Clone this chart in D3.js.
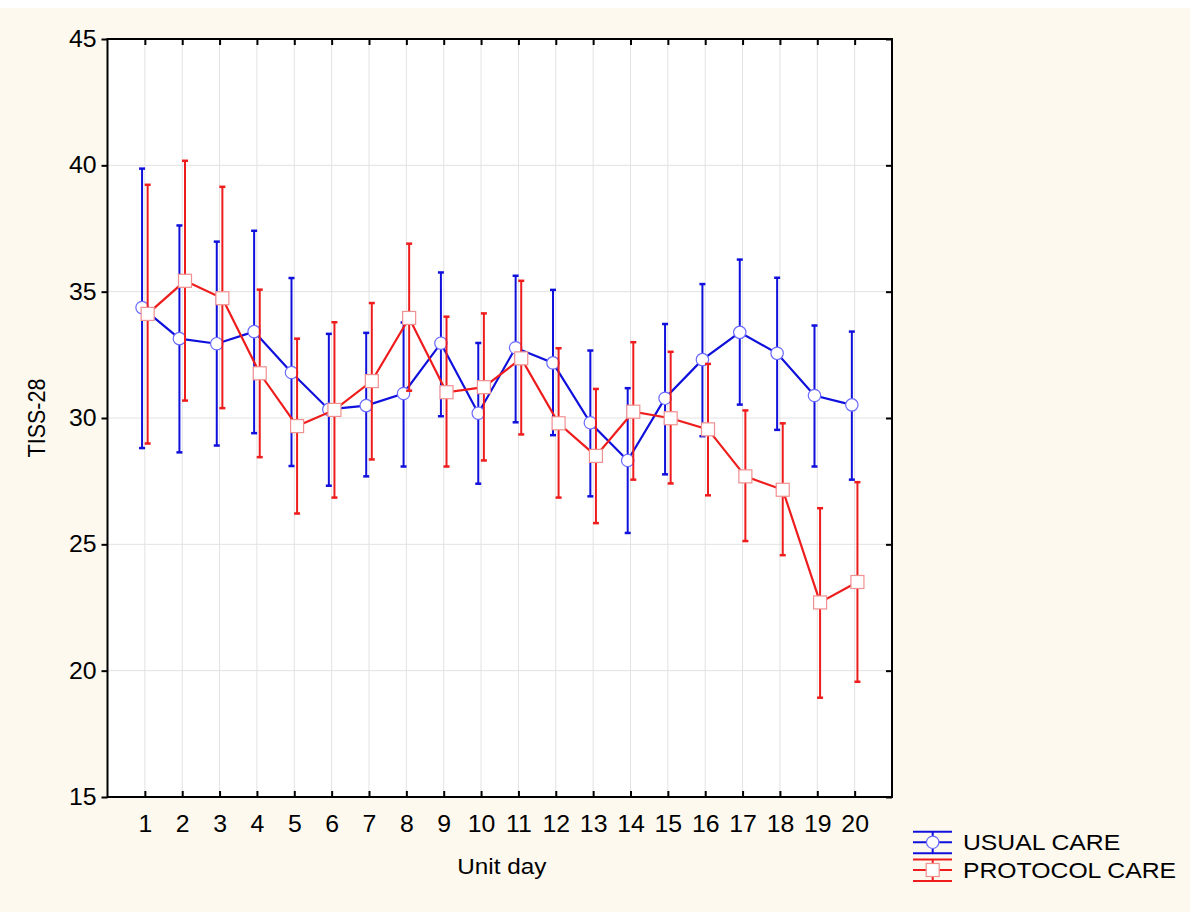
<!DOCTYPE html>
<html>
<head>
<meta charset="utf-8">
<script src="https://cdn.jsdelivr.net/npm/d3@7"></script>
<style>
  html, body { margin: 0; padding: 0; background: #ffffff; }
  svg { display: block; }
  text { font-family: "Liberation Sans", Arial, sans-serif; fill: #000; }
</style>
</head>
<body>
<svg id="chart" width="1200" height="920"></svg>
<script>
// ---- data ----
const days = [1,2,3,4,5,6,7,8,9,10,11,12,13,14,15,16,17,18,19,20];
const yTicks = [15,20,25,30,35,40,45];

const usualMean = [34.37,33.14,32.94,33.42,31.80,30.34,30.49,30.97,32.96,30.19,32.78,32.18,29.81,28.32,30.78,32.31,33.39,32.56,30.89,30.52];
const usualLow  = [28.81,28.64,28.91,29.40,28.10,27.32,27.69,28.08,30.07,27.40,29.83,29.32,26.90,25.45,27.77,29.28,30.53,29.53,28.08,27.56];
const usualHigh = [39.87,37.62,36.98,37.41,35.54,33.33,33.37,33.78,35.76,32.97,35.63,35.07,32.67,31.18,33.72,35.30,36.27,35.55,33.66,33.42];

const protocolMean = [34.12,35.43,34.74,31.77,29.68,30.32,31.46,33.96,31.02,31.22,32.36,29.79,28.50,30.25,29.99,29.55,27.69,27.16,22.70,23.51];
const protocolLow  = [28.99,30.69,30.39,28.45,26.22,26.85,28.36,31.08,28.08,28.32,29.35,26.85,25.84,27.56,27.41,26.94,25.13,24.57,18.93,19.56];
const protocolHigh = [39.23,40.18,39.15,35.08,33.14,33.79,34.55,36.90,34.01,34.14,35.43,32.76,31.15,33.00,32.62,32.14,30.30,29.79,26.43,27.46];

const seriesNames = ["USUAL CARE", "PROTOCOL CARE"];
const xLabel = "Unit day";
const yLabel = "TISS-28";

// ---- layout ----
const svg = d3.select("#chart");
const L = 107.5, R = 892, T = 39, B = 797;
const fontSize = 23;
const stretch = 1.08; // horizontal stretch of the text in the original

svg.append("rect").attr("x", 0).attr("y", 8).attr("width", 1190).attr("height", 904).attr("fill", "#fdf9ef");
svg.append("rect").attr("x", L).attr("y", T).attr("width", R - L).attr("height", B - T).attr("fill", "#ffffff");

const x = d3.scaleLinear().domain([0, 21]).range([L, R]);
const y = d3.scaleLinear().domain([15, 45]).range([B, T]);

// grid
const grid = svg.append("g");
grid.selectAll("line.vx").data(days).join("line")
  .attr("x1", d => x(d)).attr("x2", d => x(d)).attr("y1", T).attr("y2", B)
  .attr("stroke", "#e2e2e2").attr("stroke-width", 1);
grid.selectAll("line.hy").data(yTicks).join("line")
  .attr("x1", L).attr("x2", R).attr("y1", d => y(d)).attr("y2", d => y(d))
  .attr("stroke", "#e2e2e2").attr("stroke-width", 1);

// axes
function styleAxis(g) {
  g.select(".domain").remove();
  g.selectAll(".tick line").attr("stroke", "#000").attr("stroke-width", 2);
  g.selectAll(".tick text").style("font-size", fontSize + "px").attr("fill", "#000");
}
svg.append("g").attr("transform", `translate(0,${B})`)
  .call(d3.axisBottom(x).tickValues(days).tickFormat(d3.format("d")).tickSize(-6).tickPadding(18.5))
  .call(styleAxis)
  .call(g => g.selectAll(".tick text").attr("transform", `scale(${stretch},1)`));
svg.append("g").attr("transform", `translate(0,${T})`)
  .call(d3.axisTop(x).tickValues(days).tickFormat("").tickSize(-6))
  .call(styleAxis);
svg.append("g").attr("transform", `translate(${L},0)`)
  .call(d3.axisLeft(y).tickValues(yTicks).tickFormat(d3.format("d")).tickSize(6).tickPadding(5))
  .call(styleAxis)
  .call(g => g.selectAll(".tick text").attr("x", -11 / stretch).attr("transform", `scale(${stretch},1)`));
svg.append("g").attr("transform", `translate(${R},0)`)
  .call(d3.axisRight(y).tickValues(yTicks).tickFormat("").tickSize(-6))
  .call(styleAxis);

svg.append("rect").attr("x", L).attr("y", T).attr("width", R - L).attr("height", B - T)
  .attr("fill", "none").attr("stroke", "#000").attr("stroke-width", 2);

// axis titles
svg.append("text").attr("transform", `translate(${(L + R) / 2 + 2},874) scale(${stretch},1)`)
  .attr("text-anchor", "middle").style("font-size", "22.5px").text(xLabel);
svg.append("text").attr("transform", `translate(45,${(T + B) / 2}) rotate(-90) scale(1,${stretch})`)
  .attr("text-anchor", "middle").style("font-size", "21.5px").text(yLabel);

// series
const series = [
  { name: seriesNames[0], mean: usualMean, low: usualLow, high: usualHigh, color: "#1010dd", mark: "#6a6aff", shape: "circle", off: -2.8 },
  { name: seriesNames[1], mean: protocolMean, low: protocolLow, high: protocolHigh, color: "#ee1c1c", mark: "#f09090", shape: "square", off: 2.8 }
];

series.forEach(s => {
  const g = svg.append("g");
  const pts = days.map((d, i) => ({ d, m: s.mean[i], lo: s.low[i], hi: s.high[i] }));
  const px = p => x(p.d) + s.off;
  g.append("path").datum(pts)
    .attr("d", d3.line().x(px).y(p => y(p.m)))
    .attr("fill", "none").attr("stroke", s.color).attr("stroke-width", 2.2);
  g.selectAll("line.bar").data(pts).join("line")
    .attr("x1", px).attr("x2", px).attr("y1", p => y(p.lo)).attr("y2", p => y(p.hi))
    .attr("stroke", s.color).attr("stroke-width", 2);
  ["lo", "hi"].forEach(k => {
    g.selectAll("line.cap" + k).data(pts).join("line")
      .attr("x1", p => px(p) - 3).attr("x2", p => px(p) + 3)
      .attr("y1", p => y(p[k])).attr("y2", p => y(p[k]))
      .attr("stroke", s.color).attr("stroke-width", 2.5);
  });
  if (s.shape === "circle") {
    g.selectAll("circle").data(pts).join("circle")
      .attr("cx", px).attr("cy", p => y(p.m)).attr("r", 6.2)
      .attr("fill", "#fff").attr("stroke", s.mark).attr("stroke-width", 1.2);
  } else {
    g.selectAll("rect").data(pts).join("rect")
      .attr("x", p => px(p) - 6.5).attr("y", p => y(p.m) - 6.5).attr("width", 13).attr("height", 13)
      .attr("fill", "#fff").attr("stroke", s.mark).attr("stroke-width", 1.2);
  }
});

// legend
const leg = svg.append("g");
series.forEach((s, i) => {
  const cy = 842.3 + i * 27.7;
  const gx = leg.append("g");
  [-10.6, 0, 11].forEach(dy => {
    gx.append("line").attr("x1", 913).attr("x2", 952).attr("y1", cy + dy).attr("y2", cy + dy)
      .attr("stroke", s.color).attr("stroke-width", 2);
  });
  gx.append("line").attr("x1", 932.7).attr("x2", 932.7).attr("y1", cy - 10.6).attr("y2", cy + 11)
    .attr("stroke", s.color).attr("stroke-width", 2);
  if (s.shape === "circle") {
    gx.append("circle").attr("cx", 932.7).attr("cy", cy).attr("r", 6.2)
      .attr("fill", "#fff").attr("stroke", s.mark).attr("stroke-width", 1.2);
  } else {
    gx.append("rect").attr("x", 932.7 - 6.5).attr("y", cy - 6.5).attr("width", 13).attr("height", 13)
      .attr("fill", "#fff").attr("stroke", s.mark).attr("stroke-width", 1.2);
  }
  gx.append("text").attr("transform", `translate(963,${cy + 7.5}) scale(1.1,1)`)
    .style("font-size", "22.5px").text(s.name);
});
</script>
</body>
</html>
